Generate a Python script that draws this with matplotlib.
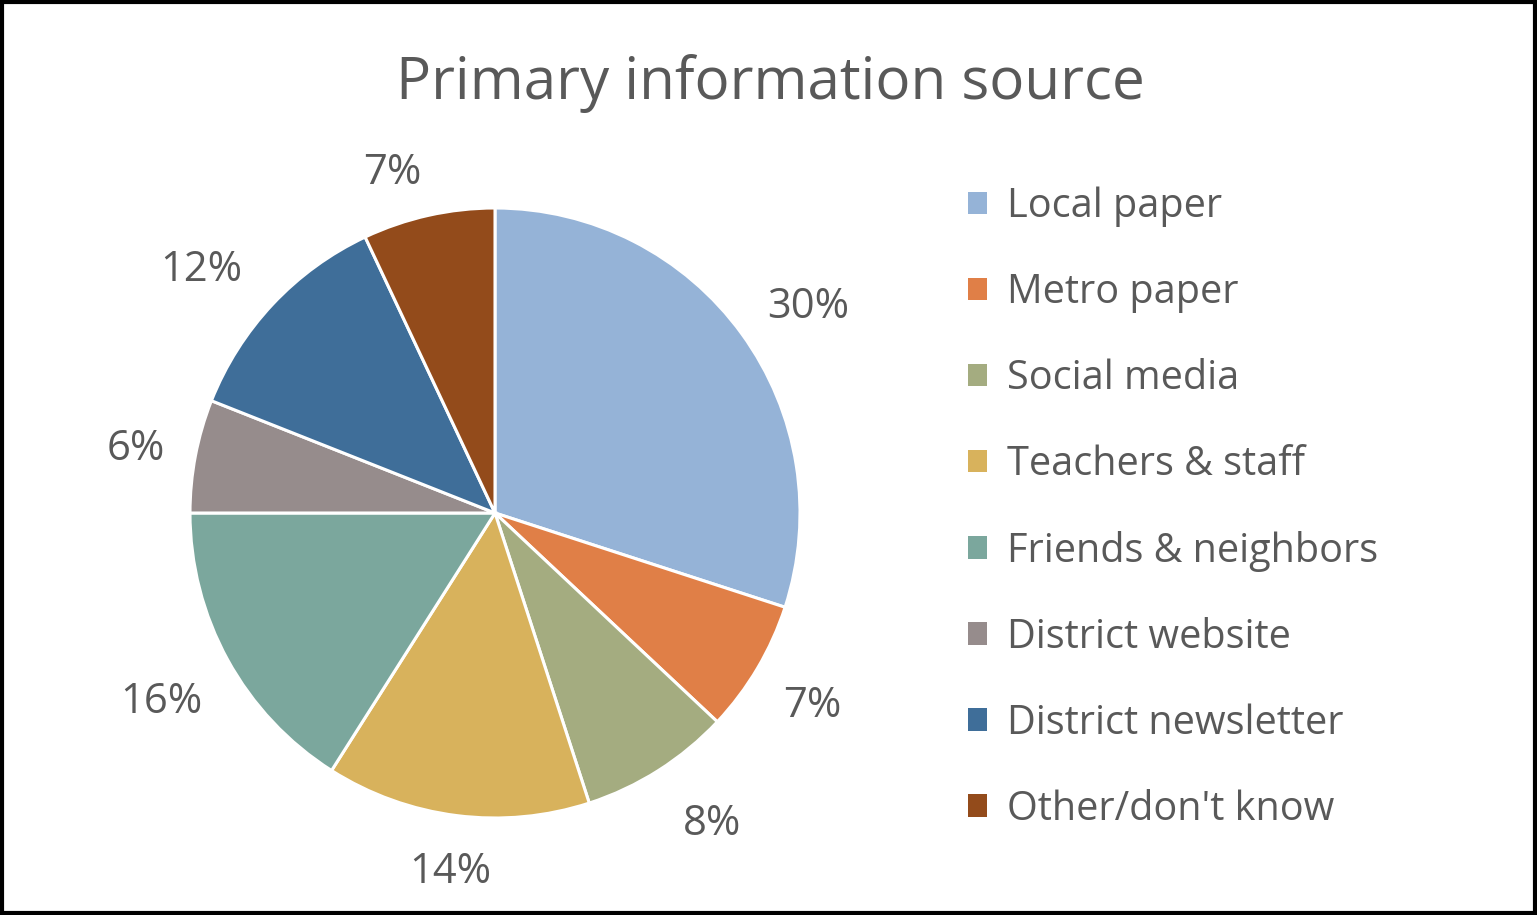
import matplotlib
matplotlib.use("Agg")
import numpy as np
import matplotlib.pyplot as plt
from matplotlib.patches import Patch

categories = ["Local paper", "Metro paper", "Social media", "Teachers & staff",
              "Friends & neighbors", "District website", "District newsletter", "Other/don't know"]
values = [30, 7, 8, 14, 16, 6, 12, 7]
colors = ["#95B3D7", "#E07F47", "#A4AC80", "#D8B25C", "#7BA79D", "#968C8C", "#3F6E99", "#934B1B"]

W, H = 1537, 915
plt.rcParams['font.family'] = ['Open Sans', 'DejaVu Sans']
fig = plt.figure(figsize=(W/100, H/100), dpi=100)
txt = "#595959"

cx, cy, r = 495, 513, 305
ax = fig.add_axes([(cx - r)/W, (H - cy - r)/H, 2*r/W, 2*r/H])
wedges, texts = ax.pie(values, colors=colors, startangle=90, counterclock=False,
                       labels=[f"{v}%" for v in values], labeldistance=1.22,
                       wedgeprops=dict(edgecolor="white", linewidth=2.2),
                       textprops=dict(color=txt, fontsize=30))
# label placement tweaks (distance factor, angle nudge in degrees) to mimic Excel best-fit
label_dist = [1.24, 1.21, 1.23, 1.17, 1.25, 1.20, 1.26, 1.18]
label_nudge = [-2, 0, 3, 0, 0, 0, 3, 4]
for w, t, d, n in zip(wedges, texts, label_dist, label_nudge):
    ang = np.deg2rad((w.theta1 + w.theta2) / 2 + n)
    t.set_position((d * np.cos(ang), d * np.sin(ang)))
    t.set_horizontalalignment("center")
    t.set_verticalalignment("center_baseline")
ax.set_xlim(-1, 1); ax.set_ylim(-1, 1)
ax.set_aspect("equal")

fig.text(770/W, 1 - 84/H, "Primary information source", ha="center", va="center",
         fontsize=42, color=txt)

handles = [Patch(facecolor=c, edgecolor="none") for c in colors]
leg = fig.legend(handles, categories, loc="upper left", bbox_to_anchor=(932/W, 1 - 151/H),
                 frameon=False, fontsize=28.5, labelcolor=txt, handlelength=0.5, handleheight=0.5,
                 handletextpad=0.5, labelspacing=1.15)

# border
fig.patches.append(plt.Rectangle((0.0015, 0.0025), 0.997, 0.995, transform=fig.transFigure,
                                 fill=False, edgecolor="black", linewidth=3))
fig.savefig("out.png", dpi=100)
